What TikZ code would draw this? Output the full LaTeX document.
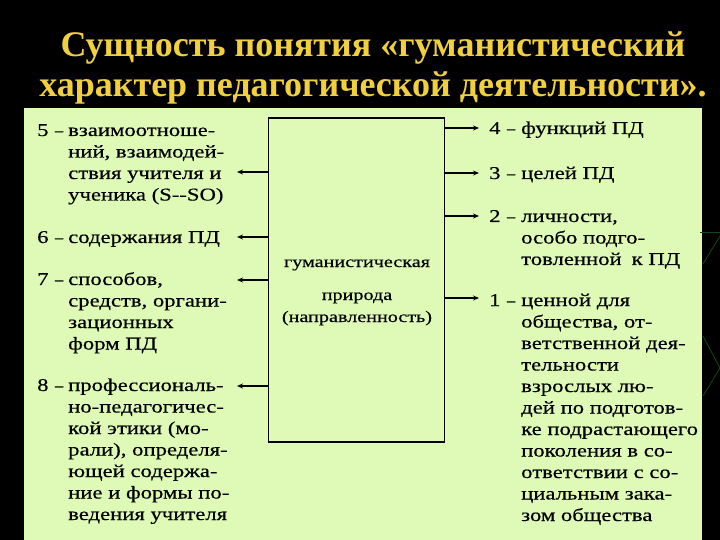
\documentclass[tikz,border=0pt]{standalone}
\usepackage{fontspec}
\usepackage{graphicx}
\setmainfont{Liberation Serif}
\newfontfamily\bodyfont[FakeStretch=1.26,FakeBold=0.4]{Liberation Serif}
\newfontfamily\titlefont{Liberation Serif Bold}
\usetikzlibrary{arrows.meta}
\definecolor{panelgreen}{RGB}{222,250,182}
\definecolor{titlegold}{RGB}{240,208,62}
\definecolor{decogreen}{RGB}{20,70,25}
\newcommand{\numdash}[1]{\makebox[30pt][l]{#1\hfill\scalebox{0.72}[1]{–}\hspace{4pt}}}
\tikzset{
  itemtext/.style={anchor=base west, inner sep=0pt, font=\bodyfont\fontsize{18}{21.5}\selectfont},
  arr/.style={line width=1.4pt, -{Stealth[length=6pt,width=5pt]}},
  mainbox/.style={draw, line width=1.8pt, inner sep=0pt},
  deco/.style={decogreen, line width=0.8pt}
}
\begin{document}
\begin{tikzpicture}[x=1pt,y=-1pt]
\useasboundingbox (0,0) rectangle (720,540);
\fill[black] (0,0) rectangle (720,540);
\fill[panelgreen] (24,108) rectangle (702,540);
\draw[deco] (700,232) -- (720,232);
\draw[deco] (703,264) -- (720,236);
\draw[deco] (703,336) -- (720,368) -- (703,396);

\node[titlegold, font=\titlefont\fontsize{36}{40}\selectfont, align=center, anchor=base] (title) at (373,97)
  {Сущность понятия «гуманистический\\характер педагогической деятельности».};

\node[mainbox, minimum width=176pt, minimum height=324pt] (box) at (356.5,280) {};
\node[font=\bodyfont\fontsize{16}{22}\selectfont, align=center, anchor=base, inner sep=0pt] (boxtext) at (357,322)
  {гуманистическая\\[11pt]природа\\(направленность)};

% left items
\node[itemtext] (l5) at (37,136) {\begin{tabular}[t]{@{}p{31pt}@{}l@{}}\numdash{5} & взаимоотноше-\\ & ний, взаимодей-\\ & ствия учителя и\\ & ученика (S--SO)\end{tabular}};
\node[itemtext] (l6) at (37,243) {\begin{tabular}[t]{@{}p{31pt}@{}l@{}}\numdash{6} & содержания ПД\end{tabular}};
\node[itemtext] (l7) at (37,285) {\begin{tabular}[t]{@{}p{31pt}@{}l@{}}\numdash{7} & способов,\\ & средств, органи-\\ & зационных\\ & форм ПД\end{tabular}};
\node[itemtext] (l8) at (37,391) {\begin{tabular}[t]{@{}p{31pt}@{}l@{}}\numdash{8} & профессиональ-\\ & но-педагогичес-\\ & кой этики (мо-\\ & рали), определя-\\ & ющей содержа-\\ & ние и формы по-\\ & ведения учителя\end{tabular}};

% right items
\node[itemtext] (r4) at (489,134) {\begin{tabular}[t]{@{}p{32pt}@{}l@{}}\numdash{4} & функций ПД\end{tabular}};
\node[itemtext] (r3) at (489,179) {\begin{tabular}[t]{@{}p{32pt}@{}l@{}}\numdash{3} & целей ПД\end{tabular}};
\node[itemtext] (r2) at (489,222) {\begin{tabular}[t]{@{}p{32pt}@{}l@{}}\numdash{2} & личности,\\ & особо подго-\\ & товленной\hspace{10pt}к ПД\end{tabular}};
\node[itemtext] (r1) at (489,306) {\begin{tabular}[t]{@{}p{32pt}@{}l@{}}\numdash{1} & ценной для\\ & общества, от-\\ & ветственной дея-\\ & тельности\\ & взрослых лю-\\ & дей по подготов-\\ & ке подрастающего\\ & поколения в со-\\ & ответствии с со-\\ & циальным зака-\\ & зом общества\end{tabular}};

% arrow tips
\coordinate (t5) at (237,172);
\coordinate (t6) at (237,237);
\coordinate (t7) at (237,280);
\coordinate (t8) at (237,386);
\coordinate (t4) at (479,128);
\coordinate (t3) at (479,173);
\coordinate (t2) at (479,216);
\coordinate (t1) at (479,298);

\foreach \t in {t5,t6,t7,t8} \draw[arr] (box.west |- \t) -- (\t);
\foreach \t in {t4,t3,t2,t1} \draw[arr] (box.east |- \t) -- (\t);
\end{tikzpicture}
\end{document}
